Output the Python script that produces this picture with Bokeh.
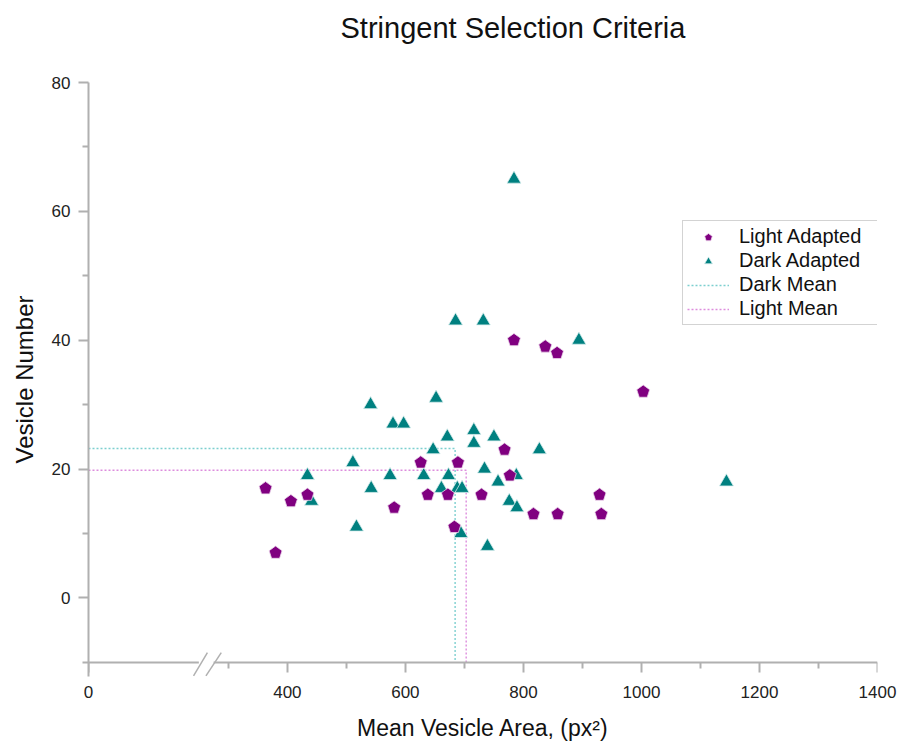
import numpy as np
from bokeh.plotting import figure
from bokeh.models import (ColumnDataSource, FixedTicker, Legend, LegendItem, Arrow, Title, LinearAxis)
from bokeh.embed import file_html
from bokeh.resources import INLINE

# ---- data ----
light_x = [784, 837, 857, 1003, 768, 626, 689, 777, 363, 434, 406, 638, 672, 729, 929, 581, 817, 858, 932, 683, 380]
light_y = [40, 39, 38, 32, 23, 21, 21, 19, 17, 16, 15, 16, 16, 16, 16, 14, 13, 13, 13, 11, 7]

dark_x = [784, 685, 732, 894, 541, 652, 579, 597, 716, 671, 750, 716, 827, 647, 511, 734, 434, 574, 631,
          673, 788, 757, 542, 661, 688, 696, 441, 776, 789, 517, 694, 739, 1144]
dark_y = [65, 43, 43, 40, 30, 31, 27, 27, 26, 25, 25, 24, 23, 23, 21, 20, 19, 19, 19,
          19, 19, 18, 17, 17, 17, 17, 15, 15, 14, 11, 10, 8, 18]

x_major_ticks = [63, 400, 600, 800, 1000, 1200, 1400]   # 63 is where the broken axis shows "0"
x_minor_ticks = [300, 500, 700, 900, 1100, 1300]
x_tick_labels = {63: "0"}
y_major_ticks = [0, 20, 40, 60, 80]
y_minor_ticks = [-10, 10, 30, 50, 70]

X_START, X_END = 63, 1400
Y_AXIS_AT = -10
Y_START, Y_END = -12.2, 80

dark_mx, dark_my = float(np.mean(dark_x)), float(np.mean(dark_y))
light_mx, light_my = float(np.mean(light_x)), float(np.mean(light_y))

FONT = "Liberation Sans"
AXIS_GRAY = "#b0b0b0"
PURPLE = "#800080"
TEAL = "#008080"
DARK_MEAN_C = "#7ccfcf"
LIGHT_MEAN_C = "#dd8ddd"

p = figure(width=899, height=747, x_range=(X_START, X_END), y_range=(Y_START, Y_END),
           output_backend="svg", toolbar_location=None,
           min_border_left=88, min_border_right=22, min_border_top=82, min_border_bottom=71)
p.outline_line_color = None
p.xgrid.visible = False
p.ygrid.visible = False

# title (spacer title between frame and main title lifts the main title up)
p.title.text = "Stringent Selection Criteria"
p.title.text_font = FONT
p.title.text_font_size = "29px"
p.title.text_font_style = "normal"
p.title.text_color = "#111111"
p.title.align = "left"
p.title.offset = 252
p.add_layout(Title(text=" ", text_font_size="20px"), "above")

# axes
p.xaxis.fixed_location = Y_AXIS_AT
p.xaxis.ticker = FixedTicker(ticks=x_major_ticks, minor_ticks=x_minor_ticks)
p.yaxis.ticker = FixedTicker(ticks=y_major_ticks, minor_ticks=y_minor_ticks)
for ax in (p.xaxis[0], p.yaxis[0]):
    ax.axis_line_color = AXIS_GRAY
    ax.axis_line_width = 2
    ax.major_tick_line_color = AXIS_GRAY
    ax.major_tick_line_width = 2
    ax.minor_tick_line_color = AXIS_GRAY
    ax.minor_tick_line_width = 2
    ax.major_tick_out = 10
    ax.major_tick_in = 0
    ax.minor_tick_out = 6
    ax.minor_tick_in = 0
    ax.major_label_text_font = FONT
    ax.major_label_text_font_size = "17px"
    ax.major_label_text_color = "#222222"
    ax.axis_label_text_font = FONT
    ax.axis_label_text_font_size = "24px"
    ax.axis_label_text_font_style = "normal"
    ax.axis_label_text_color = "#111111"
p.xaxis[0].major_label_text_color = None
p.yaxis.axis_label = "Vesicle Number"
p.yaxis.major_label_standoff = 8
p.yaxis.axis_label_standoff = 11

# tick labels + axis label of the x axis (line/ticks drawn by the fixed-location axis)
xlab_axis = LinearAxis(ticker=FixedTicker(ticks=x_major_ticks), major_label_overrides=x_tick_labels,
                       axis_line_color=None, major_tick_line_color=None, minor_tick_line_color=None,
                       major_tick_out=0, major_tick_in=0, minor_tick_out=0, minor_tick_in=0,
                       major_label_standoff=9, major_label_text_font=FONT,
                       major_label_text_font_size="17px", major_label_text_color="#222222",
                       axis_label="Mean Vesicle Area, (px\u00b2)", axis_label_standoff=14,
                       axis_label_text_font=FONT, axis_label_text_font_size="23px",
                       axis_label_text_font_style="normal", axis_label_text_color="#111111")
p.add_layout(xlab_axis, "below")

# mean lines
r_dm = p.line([X_START, dark_mx, dark_mx], [dark_my, dark_my, Y_AXIS_AT],
              line_color=DARK_MEAN_C, line_width=1.4, line_dash="2 2")
r_lm = p.line([X_START, light_mx, light_mx], [light_my, light_my, Y_AXIS_AT],
              line_color=LIGHT_MEAN_C, line_width=1.4, line_dash="2 2")

# points
src_d = ColumnDataSource(dict(x=dark_x, y=dark_y))
src_l = ColumnDataSource(dict(x=light_x, y=light_y))
r_d = p.scatter("x", "y", source=src_d, marker="triangle", size=14,
                fill_color=TEAL, line_color="#d8eeee", line_width=0.8)
r_l = p.ngon(x="x", y="y", radius=6.8, radius_units="screen", n=5, angle=0,
             source=src_l, fill_color=PURPLE, line_color="#ecd8ec", line_width=0.8)

legend = Legend(items=[
    LegendItem(label="Light Adapted", renderers=[r_l]),
    LegendItem(label="Dark Adapted", renderers=[r_d]),
    LegendItem(label="Dark Mean", renderers=[r_dm]),
    LegendItem(label="Light Mean", renderers=[r_lm]),
], location=(594, 351))
legend.label_text_font = FONT
legend.label_text_font_size = "20px"
legend.label_text_color = "#111111"
legend.glyph_width = 42
legend.glyph_height = 20
legend.label_height = 20
legend.label_width = 136
legend.label_standoff = 10
legend.spacing = 1
legend.padding = 4
legend.margin = 0
legend.border_line_color = "#a8a8a8"
legend.border_line_width = 1.5
legend.background_fill_alpha = 1.0
p.add_layout(legend, "center")

# axis break marks on the x axis
p.add_layout(Arrow(x_start=250, y_start=Y_AXIS_AT, x_end=275, y_end=Y_AXIS_AT, end=None,
                   line_color="white", line_width=4))
for xs, xe in [(241, 264.5), (262, 288)]:
    p.add_layout(Arrow(x_start=xs, y_start=-12.1, x_end=xe, y_end=-8.5, end=None,
                       line_color=AXIS_GRAY, line_width=1.5))

open("out.html", "w").write(file_html(p, INLINE))
